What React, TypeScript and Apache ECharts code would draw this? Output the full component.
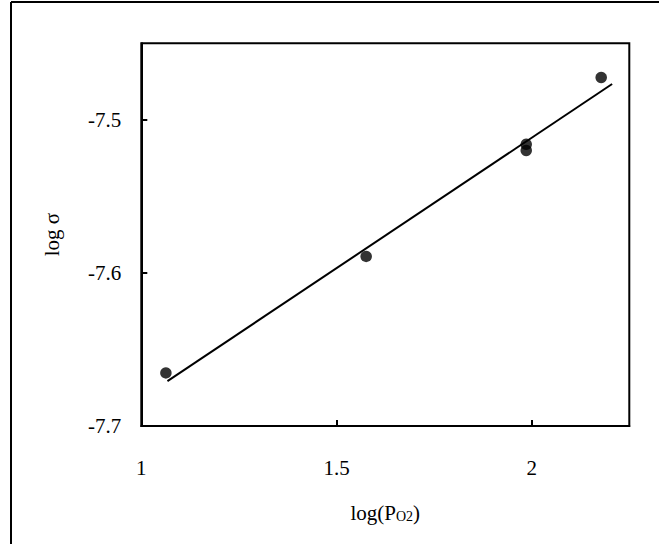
import React, { useEffect, useRef } from "react";
import * as echarts from "echarts";

const xTicks = [1, 1.5, 2];
const yTicks = [-7.7, -7.6, -7.5];
const pointX = [1.063, 1.576, 1.986, 1.986, 2.178];
const pointY = [-7.6653, -7.5892, -7.516, -7.52, -7.4723];
const fitX = [1.067, 2.206];
const fitY = [-7.6707, -7.4766];

const FONT = '"Liberation Serif", "Times New Roman", serif';

export default function App() {
  const ref = useRef<HTMLDivElement>(null);
  useEffect(() => {
    if (!ref.current) return;
    const chart = echarts.init(ref.current, null, { renderer: "svg" });
    const points = pointX.map((x, i) => [x, pointY[i]]);
    const fit = fitX.map((x, i) => [x, fitY[i]]);
    chart.setOption({
      animation: false,
      backgroundColor: "#ffffff",
      textStyle: { fontFamily: FONT, color: "#000" },
      graphic: [
        { type: "line", shape: { x1: 11, y1: 2, x2: 700, y2: 2 }, style: { stroke: "#000", lineWidth: 2 } },
        { type: "line", shape: { x1: 11, y1: 2, x2: 11, y2: 600 }, style: { stroke: "#000", lineWidth: 2 } },
      ],
      grid: {
        left: 141.3,
        top: 43.3,
        right: 29.7,
        bottom: 118,
        show: true,
        borderColor: "#000",
        borderWidth: 2,
        backgroundColor: "transparent",
      },
      xAxis: {
        type: "value",
        min: xTicks[0],
        max: 2.25,
        interval: 0.5,
        name: "{a|log(P}{b|O2}{a|)}",
        nameLocation: "middle",
        nameGap: 76,
        nameTextStyle: {
          rich: {
            a: { fontFamily: FONT, fontSize: 21, color: "#000" },
            b: { fontFamily: FONT, fontSize: 14, color: "#000", verticalAlign: "bottom", padding: [6, 0, 0, 0] },
          },
        },
        axisLine: { show: true, lineStyle: { color: "#000", width: 2 } },
        axisTick: { show: true, inside: true, length: 6, lineStyle: { color: "#000", width: 2 } },
        axisLabel: {
          margin: 31,
          fontFamily: FONT,
          fontSize: 21,
          color: "#000",
          showMaxLabel: false,
          formatter: (v: number) => (xTicks.some((t) => Math.abs(t - v) < 1e-6) ? String(v) : ""),
        },
        splitLine: { show: false },
      },
      yAxis: {
        type: "value",
        min: yTicks[0],
        max: -7.45,
        interval: 0.1,
        name: "log σ",
        nameLocation: "middle",
        nameGap: 79,
        nameRotate: 90,
        nameTextStyle: { fontFamily: FONT, fontSize: 21, color: "#000" },
        axisLine: { show: true, lineStyle: { color: "#000", width: 2 } },
        axisTick: { show: true, inside: true, length: 6, lineStyle: { color: "#000", width: 2 } },
        axisLabel: {
          margin: 20,
          fontFamily: FONT,
          fontSize: 21,
          color: "#000",
          showMaxLabel: false,
          formatter: (v: number) => {
            const t = yTicks.find((y) => Math.abs(y - v) < 1e-6);
            return t === undefined ? "" : t.toFixed(1);
          },
        },
        splitLine: { show: false },
      },
      series: [
        {
          type: "line",
          data: fit,
          symbol: "none",
          lineStyle: { color: "#000", width: 2 },
          z: 2,
        },
        {
          type: "scatter",
          data: points,
          symbol: "circle",
          symbolSize: 11.5,
          itemStyle: { color: "#000" },
          z: 3,
        },
      ],
    });
    return () => chart.dispose();
  }, []);
  return (
    <div
      ref={ref}
      style={{ position: "fixed", left: 0, top: 0, width: 659, height: 544, background: "#fff" }}
    />
  );
}
